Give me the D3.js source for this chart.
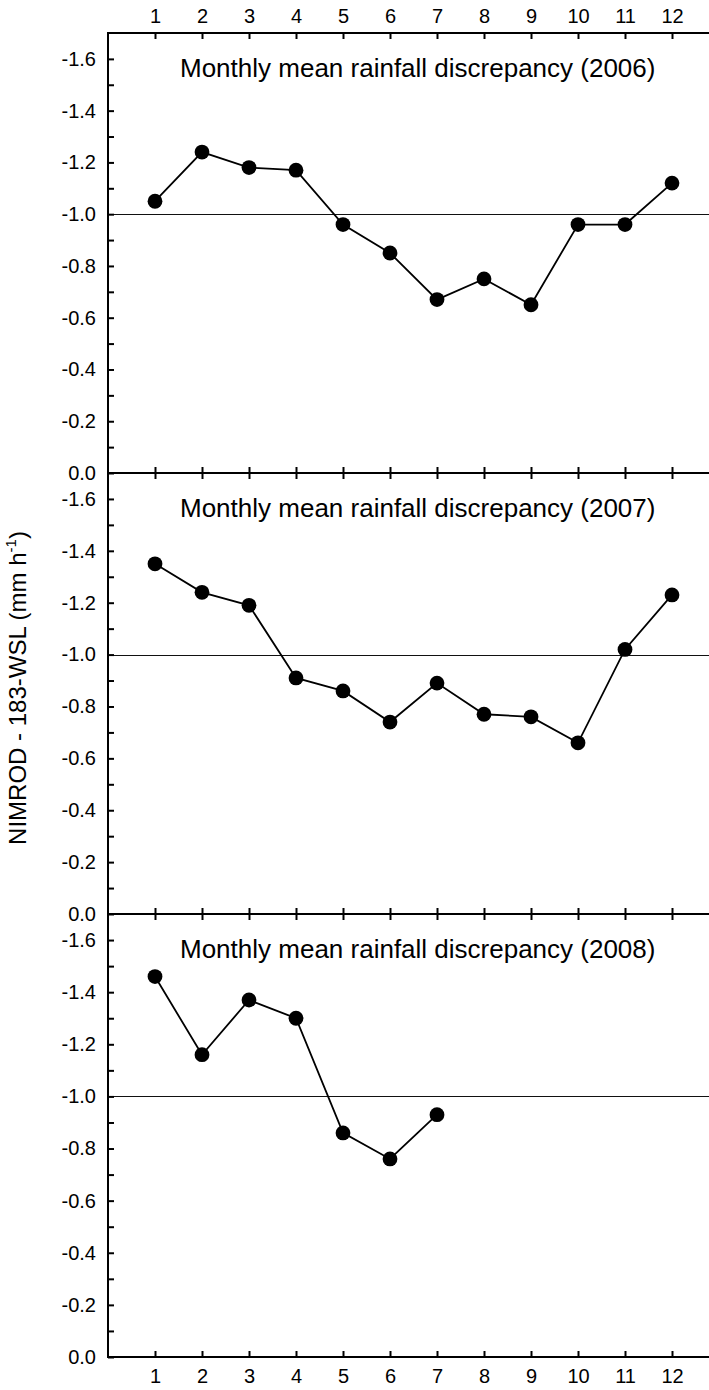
<!DOCTYPE html>
<html>
<head>
<meta charset="utf-8">
<script src="https://cdn.jsdelivr.net/npm/d3@7"></script>
<style>
  html, body { margin: 0; padding: 0; background: #fff; }
  svg { display: block; }
  text { font-family: "Liberation Sans", Arial, sans-serif; fill: #000; }
</style>
</head>
<body>
<svg id="chart" width="709" height="1390"></svg>
<script>
// Monthly mean discrepancy, NIMROD minus 183-WSL retrieval (mm h^-1)
const months = [1, 2, 3, 4, 5, 6, 7, 8, 9, 10, 11, 12];
const years = ["2006", "2007", "2008"];
const values2006 = [-1.05, -1.24, -1.18, -1.17, -0.96, -0.85, -0.67, -0.75, -0.65, -0.96, -0.96, -1.12];
const values2007 = [-1.35, -1.24, -1.19, -0.91, -0.86, -0.74, -0.89, -0.77, -0.76, -0.66, -1.02, -1.23];
const values2008 = [-1.46, -1.16, -1.37, -1.30, -0.86, -0.76, -0.93];
const majorTicks = [0.0, -0.2, -0.4, -0.6, -0.8, -1.0, -1.2, -1.4, -1.6];
const majorTickLabels = ["0.0", "-0.2", "-0.4", "-0.6", "-0.8", "-1.0", "-1.2", "-1.4", "-1.6"];
const minorTicks = [-0.1, -0.3, -0.5, -0.7, -0.9, -1.1, -1.3, -1.5];
const referenceLevel = -1.0;
const titlePrefix = "Monthly mean rainfall discrepancy";

const series = [values2006, values2007, values2008];

const svg = d3.select("#chart");
const W = 709;
const left = 108;
const panelEdges = [33, 473, 914, 1357];
const FONT = "'Liberation Sans', Arial, sans-serif";

const x = d3.scaleLinear().domain([0, 13]).range([left, left + 13 * 47]);

const tickLen = 6;

series.forEach((vals, i) => {
  const top = panelEdges[i], bottom = panelEdges[i + 1];
  const y = d3.scaleLinear().domain([0, -1.7]).range([bottom, top]);
  const g = svg.append("g");

  // reference level
  g.append("line")
    .attr("x1", left).attr("x2", W)
    .attr("y1", Math.round(y(referenceLevel)) + 0.5).attr("y2", Math.round(y(referenceLevel)) + 0.5)
    .attr("stroke", "#111").attr("stroke-width", 1.2);

  // y axis: inward ticks, labels on the left
  const yAxis = d3.axisLeft(y)
    .tickValues(majorTicks)
    .tickFormat((d, k) => majorTickLabels[k])
    .tickSizeInner(-tickLen)
    .tickSizeOuter(0)
    .tickPadding(12 + tickLen);
  const ya = g.append("g").attr("transform", `translate(${left},0)`).call(yAxis);
  ya.select(".domain").remove();
  ya.selectAll(".tick line").attr("stroke", "#000").attr("stroke-width", 2);
  ya.selectAll(".tick text")
    .attr("x", -12)
    .style("font-family", FONT)
    .style("font-size", "20px").attr("fill", "#000");

  const yMinor = d3.axisLeft(y).tickValues(minorTicks).tickFormat("")
    .tickSizeInner(-tickLen).tickSizeOuter(0);
  const ym = g.append("g").attr("transform", `translate(${left},0)`).call(yMinor);
  ym.select(".domain").remove();
  ym.selectAll(".tick line").attr("stroke", "#000").attr("stroke-width", 2);

  // x ticks on the panel's top and bottom edges (pointing inward)
  const xTop = d3.axisBottom(x).tickValues(months).tickFormat("").tickSizeInner(tickLen).tickSizeOuter(0);
  const xt = g.append("g").attr("transform", `translate(0,${top})`).call(xTop);
  xt.select(".domain").remove();
  xt.selectAll(".tick line").attr("stroke", "#000").attr("stroke-width", 2);

  const xBot = d3.axisTop(x).tickValues(months).tickFormat("").tickSizeInner(tickLen).tickSizeOuter(0);
  const xb = g.append("g").attr("transform", `translate(0,${bottom})`).call(xBot);
  xb.select(".domain").remove();
  xb.selectAll(".tick line").attr("stroke", "#000").attr("stroke-width", 2);

  // panel title
  g.append("text")
    .attr("x", 180).attr("y", top + 43.5)
    .style("font-size", "26px")
    .text(`${titlePrefix} (${years[i]})`);

  // series line and markers
  const pts = vals.map((v, k) => ({ m: months[k], v }));
  g.append("path")
    .datum(pts)
    .attr("fill", "none").attr("stroke", "#000").attr("stroke-width", 1.8)
    .attr("d", d3.line().x(d => x(d.m)).y(d => y(d.v)));
  g.selectAll("circle").data(pts).join("circle")
    .attr("cx", d => x(d.m)).attr("cy", d => y(d.v))
    .attr("r", 7.4).attr("fill", "#000");
});

// horizontal frame lines across the panels
panelEdges.forEach(yy => {
  svg.append("line").attr("x1", left - 1).attr("x2", W)
    .attr("y1", yy).attr("y2", yy).attr("stroke", "#000").attr("stroke-width", 2);
});
// left axis spine
svg.append("line").attr("x1", left).attr("x2", left)
  .attr("y1", panelEdges[0]).attr("y2", panelEdges[3])
  .attr("stroke", "#000").attr("stroke-width", 2);

// month labels above the top panel and below the bottom panel
const topLabels = d3.axisTop(x).tickValues(months).tickFormat(d3.format("d")).tickSize(0).tickPadding(10);
const tl = svg.append("g").attr("transform", `translate(0,${panelEdges[0]})`).call(topLabels);
tl.select(".domain").remove();
tl.selectAll("text").style("font-size", "20px").style("font-family", FONT).attr("fill", "#000");

const botLabels = d3.axisBottom(x).tickValues(months).tickFormat(d3.format("d")).tickSize(0).tickPadding(12);
const bl = svg.append("g").attr("transform", `translate(0,${panelEdges[3]})`).call(botLabels);
bl.select(".domain").remove();
bl.selectAll("text").style("font-size", "20px").style("font-family", FONT).attr("fill", "#000");

// shared y-axis title
const yt = svg.append("text")
  .attr("transform", `translate(26,${(panelEdges[0] + panelEdges[3]) / 2 - 7}) rotate(-90)`)
  .attr("text-anchor", "middle")
  .style("font-size", "24px");
yt.append("tspan").text("NIMROD - 183-WSL (mm h");
yt.append("tspan").attr("dy", -10).style("font-size", "15px").text("-1");
yt.append("tspan").attr("dy", 10).text(")");
</script>
</body>
</html>
